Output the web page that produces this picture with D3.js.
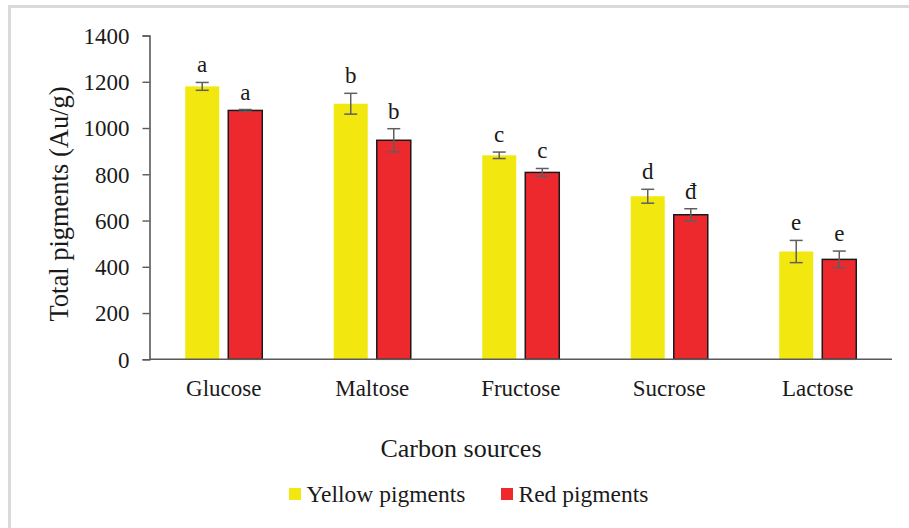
<!DOCTYPE html>
<html>
<head>
<meta charset="utf-8">
<script src="https://cdn.jsdelivr.net/npm/d3@7"></script>
<style>
  html, body { margin: 0; padding: 0; background: #fff; }
  svg { display: block; }
  text { font-family: "Liberation Serif", "Times New Roman", serif; fill: #1a1a1a; }
</style>
</head>
<body>
<svg id="chart" width="909" height="528"></svg>
<script>
// Carbon sources and the two pigment series (Au/g), with standard errors
const categories = ["Glucose", "Maltose", "Fructose", "Sucrose", "Lactose"];
const seriesNames = ["Yellow pigments", "Red pigments"];
const yellowValues = [1180, 1105, 882, 705, 466];
const yellowErrors = [17, 45, 14, 30, 48];
const redValues = [1076, 947, 808, 625, 432];
const redErrors = [4, 50, 17, 26, 36];
const yellowLetters = ["a", "b", "c", "d", "e"];
const redLetters = ["a", "b", "c", "đ", "e"];
const yTicks = [0, 200, 400, 600, 800, 1000, 1200, 1400];

const colors = { "Yellow pigments": "#f2e80f", "Red pigments": "#ee292e" };

const rows = categories.map((c, i) => ({
  category: c,
  bars: [
    { series: seriesNames[0], value: yellowValues[i], err: yellowErrors[i], letter: yellowLetters[i] },
    { series: seriesNames[1], value: redValues[i], err: redErrors[i], letter: redLetters[i] }
  ]
}));

const svg = d3.select("#chart");

// light frame along the top and left edges
svg.append("line").attr("x1", 9.5).attr("x2", 909).attr("y1", 6.5).attr("y2", 6.5)
  .attr("stroke", "#d9d9d9").attr("stroke-width", 3);
svg.append("line").attr("x1", 9.5).attr("x2", 9.5).attr("y1", 5).attr("y2", 528)
  .attr("stroke", "#d9d9d9").attr("stroke-width", 3);

const plot = { left: 149.5, right: 892, top: 35.5, bottom: 359.3 };

const x0 = d3.scaleBand().domain(categories).range([plot.left, plot.right]).padding(0);
const x1 = d3.scaleBand().domain(seriesNames)
  .range([0, x0.bandwidth()]).paddingInner(0.21).paddingOuter(0.83);
const y = d3.scaleLinear().domain([0, 1400]).range([plot.bottom, plot.top]);

// y axis
const yAxis = svg.append("g")
  .attr("transform", `translate(${plot.left},0)`)
  .call(d3.axisLeft(y).tickValues(yTicks).tickSize(7).tickPadding(13).tickFormat(d3.format("d")));
yAxis.select(".domain").attr("stroke", "#595959").attr("stroke-width", 1.6);
yAxis.selectAll(".tick line").attr("stroke", "#595959").attr("stroke-width", 1.4);
yAxis.selectAll(".tick text").style("font-family", '"Liberation Serif", serif')
  .style("font-size", "23px").attr("fill", "#1a1a1a").attr("dy", "0.34em");

// bars
const groups = svg.append("g").selectAll("g").data(rows).join("g")
  .attr("transform", d => `translate(${x0(d.category)},0)`);

groups.selectAll("rect").data(d => d.bars).join("rect")
  .attr("x", d => x1(d.series))
  .attr("y", d => y(d.value))
  .attr("width", x1.bandwidth())
  .attr("height", d => y(0) - y(d.value))
  .attr("fill", d => colors[d.series])
  .attr("stroke", d => d.series === "Red pigments" ? "#1a1a1a" : "none")
  .attr("stroke-width", 1.5);

// error bars
const capHalf = 6.5;
const eb = groups.selectAll("g.err").data(d => d.bars).join("g").attr("class", "err")
  .attr("stroke", "#5f5f5f").attr("stroke-width", 1.5);
eb.append("line")
  .attr("x1", d => x1(d.series) + x1.bandwidth() / 2).attr("x2", d => x1(d.series) + x1.bandwidth() / 2)
  .attr("y1", d => y(d.value + d.err)).attr("y2", d => y(d.value - d.err));
eb.append("line")
  .attr("x1", d => x1(d.series) + x1.bandwidth() / 2 - capHalf).attr("x2", d => x1(d.series) + x1.bandwidth() / 2 + capHalf)
  .attr("y1", d => y(d.value + d.err)).attr("y2", d => y(d.value + d.err));
eb.append("line")
  .attr("x1", d => x1(d.series) + x1.bandwidth() / 2 - capHalf).attr("x2", d => x1(d.series) + x1.bandwidth() / 2 + capHalf)
  .attr("y1", d => y(d.value - d.err)).attr("y2", d => y(d.value - d.err));

// significance letters
groups.selectAll("text.letter").data(d => d.bars).join("text").attr("class", "letter")
  .attr("x", d => x1(d.series) + x1.bandwidth() / 2)
  .attr("y", d => y(d.value + d.err) - 10)
  .attr("text-anchor", "middle")
  .style("font-size", "23px")
  .text(d => d.letter);

// x axis baseline
svg.append("line").attr("x1", plot.left).attr("x2", plot.right)
  .attr("y1", y(0)).attr("y2", y(0))
  .attr("stroke", "#595959").attr("stroke-width", 1.6);

// category labels
svg.append("g").selectAll("text").data(categories).join("text")
  .attr("x", d => x0(d) + x0.bandwidth() / 2)
  .attr("y", 395.5)
  .attr("text-anchor", "middle")
  .style("font-size", "23px")
  .text(d => d);

// axis titles
svg.append("text")
  .attr("transform", "translate(68,204) rotate(-90)")
  .attr("text-anchor", "middle")
  .style("font-size", "26.5px")
  .text("Total pigments (Au/g)");

svg.append("text")
  .attr("x", 461).attr("y", 456.5)
  .attr("text-anchor", "middle")
  .style("font-size", "26px")
  .text("Carbon sources");

// legend
const legendX = [289, 501];
const legend = svg.append("g").selectAll("g").data(seriesNames).join("g")
  .attr("transform", (d, i) => `translate(${legendX[i]},488)`);
legend.append("rect").attr("width", 12).attr("height", 12).attr("fill", d => colors[d]);
legend.append("text").attr("x", 17.5).attr("y", 13.7)
  .style("font-size", "23.5px").text(d => d);
</script>
</body>
</html>
